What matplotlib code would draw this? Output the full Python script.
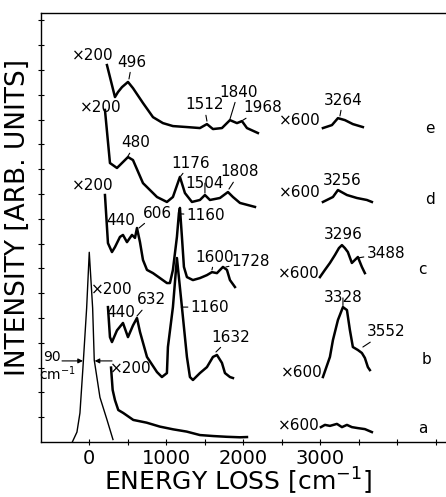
import matplotlib
matplotlib.use("Agg")
import matplotlib.pyplot as plt

# energy loss in cm^-1, intensity in arbitrary units (offset per spectrum)

# spectrum a: elastic peak (x1), x200 tail, x600 part
elastic_x = [-220, -160, -121, -82, -34, 0, 44, 65, 139, 230, 308]
elastic_y = [0.0, 0.4, 1.17, 3.0, 5.4, 7.65, 5.4, 3.3, 1.8, 0.9, 0.1]
a200_x = [283, 304, 334, 377, 442, 572, 745, 918, 1091, 1265, 1438, 1612, 1785, 1958, 2049]
a200_y = [3.0, 2.1, 1.69, 1.29, 1.17, 0.89, 0.78, 0.62, 0.51, 0.42, 0.28, 0.24, 0.21, 0.19, 0.2]
a600_x = [3010, 3062, 3127, 3218, 3283, 3348, 3412, 3490, 3581, 3672]
a600_y = [0.6, 0.69, 0.65, 0.73, 0.6, 0.69, 0.6, 0.56, 0.52, 0.4]

# spectrum b
b200_x = [243, 269, 295, 360, 438, 503, 568, 620, 659, 750, 880, 944, 1009, 1022, 1087,
          1139, 1204, 1269, 1308, 1347, 1438, 1529, 1607, 1659, 1724, 1763, 1828, 1867]
b200_y = [5.44, 4.23, 4.03, 4.5, 4.8, 4.23, 4.7, 5.0, 4.44, 3.43, 2.82, 2.62, 2.78, 3.83, 5.44,
          7.42, 5.44, 3.43, 2.62, 2.5, 2.78, 3.02, 3.43, 3.51, 3.19, 2.78, 2.62, 2.58]
b600_x = [3036, 3127, 3166, 3231, 3296, 3348, 3386, 3425, 3490, 3542, 3581, 3620, 3646]
b600_y = [2.62, 3.43, 4.11, 4.92, 5.44, 5.32, 4.52, 3.83, 3.71, 3.59, 3.39, 3.02, 2.9]

# spectrum c
c200_x = [204, 243, 295, 334, 399, 438, 490, 555, 594, 620, 659, 698, 750, 828, 919, 1009,
          1048, 1087, 1139, 1165, 1178, 1204, 1230, 1269, 1347, 1438, 1529, 1594, 1659, 1737,
          1789, 1828, 1893]
c200_y = [9.96, 8.02, 7.66, 7.86, 8.27, 8.35, 8.06, 8.35, 8.23, 8.63, 8.06, 7.34, 6.94, 6.81,
          6.61, 6.41, 6.41, 6.94, 8.27, 9.23, 9.44, 8.27, 7.06, 6.65, 6.53, 6.61, 6.73, 6.85,
          6.81, 7.06, 6.94, 6.53, 6.25]
c600_x = [2997, 3062, 3127, 3192, 3244, 3283, 3321, 3360, 3412, 3451, 3490, 3542, 3581]
c600_y = [6.65, 6.94, 7.22, 7.54, 7.82, 7.94, 7.82, 7.66, 7.22, 7.34, 7.46, 7.06, 6.81]

# spectrum d
d200_x = [204, 269, 360, 503, 568, 698, 880, 1009, 1087, 1178, 1243, 1334, 1438, 1503, 1568,
          1698, 1802, 1867, 1958, 2153]
d200_y = [13.39, 11.25, 11.05, 11.49, 11.37, 10.44, 9.88, 9.68, 9.88, 10.69, 10.04, 9.68,
          9.76, 9.96, 9.76, 9.84, 10.08, 9.88, 9.64, 9.48]
d600_x = [3036, 3166, 3231, 3348, 3477, 3607, 3672]
d600_y = [9.68, 9.88, 10.16, 9.96, 9.84, 9.76, 9.68]

# spectrum e
e200_x = [230, 334, 373, 425, 503, 568, 698, 828, 957, 1087, 1269, 1438, 1529, 1607, 1724,
          1828, 1919, 1984, 2049, 2191]
e200_y = [15.2, 13.91, 14.11, 14.31, 14.52, 14.27, 13.67, 13.1, 12.86, 12.74, 12.7, 12.66,
          12.82, 12.62, 12.66, 12.98, 12.86, 12.94, 12.66, 12.46]
e600_x = [3036, 3153, 3231, 3322, 3425, 3555]
e600_y = [12.66, 12.78, 13.06, 12.98, 12.82, 12.7]

fig = plt.figure(figsize=(4.46, 4.97), dpi=100)
ax = fig.add_axes([41 / 446, 55 / 497, 410 / 446, 429 / 497])

ax.plot(elastic_x, elastic_y, color="black", lw=1.0)
for xs, ys in [(a200_x, a200_y), (a600_x, a600_y), (b200_x, b200_y), (b600_x, b600_y),
               (c200_x, c200_y), (c600_x, c600_y), (d200_x, d200_y), (d600_x, d600_y),
               (e200_x, e200_y), (e600_x, e600_y)]:
    ax.plot(xs, ys, color="black", lw=1.8, solid_joinstyle="round")

# labels without leader: (text, x, y)
plain_labels = [
    ("×200", 48, 15.6), ("×600", 2739, 12.98), ("e", 4426, 12.66),
    ("×200", 152, 13.47), ("×600", 2739, 10.08), ("3256", 3283, 10.56), ("d", 4426, 9.76),
    ("×200", 48, 10.36), ("440", 413, 8.95), ("×600", 2726, 6.81), ("3296", 3296, 8.35),
    ("c", 4322, 6.94),
    ("×200", 295, 6.13), ("440", 413, 5.24), ("×600", 2765, 2.82), ("b", 4387, 3.31),
    ("×200", 543, 2.98), ("×600", 2726, 0.65), ("a", 4335, 0.56),
]
for txt, x, y in plain_labels:
    ax.text(x, y, txt, fontsize=11, ha="center", va="center")

# labels with leader lines: (text, peak x, peak y, text x, text y)
peak_labels = [
    ("496", 516, 14.64, 556, 15.32),
    ("1512", 1529, 12.94, 1492, 13.59),
    ("1840", 1828, 13.02, 1935, 14.11),
    ("1968", 1997, 12.98, 2256, 13.47),
    ("3264", 3257, 13.15, 3296, 13.79),
    ("480", 503, 11.53, 608, 12.06),
    ("1176", 1191, 10.73, 1322, 11.25),
    ("1504", 1503, 10.04, 1503, 10.44),
    ("1808", 1815, 10.2, 1958, 10.89),
    ("606", 646, 8.63, 880, 9.23),
    ("1160", 1178, 9.2, 1516, 9.15),
    ("1600", 1594, 6.94, 1633, 7.46),
    ("1728", 1776, 7.06, 2101, 7.26),
    ("3488", 3490, 7.42, 3854, 7.62),
    ("632", 620, 5.08, 802, 5.73),
    ("1160", 1195, 5.44, 1568, 5.44),
    ("1632", 1646, 3.63, 1843, 4.23),
    ("3328", 3296, 5.5, 3296, 5.81),
    ("3552", 3555, 3.83, 3854, 4.44),
]
for txt, px, py, tx, ty in peak_labels:
    ax.annotate(txt, xy=(px, py), xytext=(tx, ty), fontsize=11, ha="center", va="center",
                arrowprops=dict(arrowstyle="-", lw=0.8, color="black",
                                shrinkA=0, shrinkB=0))

# width marker of the elastic peak
ax.text(-484, 3.43, "90", fontsize=10, ha="center", va="center")
ax.text(-419, 2.74, "cm$^{-1}$", fontsize=10, ha="center", va="center")
ax.annotate("", xy=(-82, 3.27), xytext=(-354, 3.27),
            arrowprops=dict(arrowstyle="-|>", lw=0.8, color="black", mutation_scale=7,
                            shrinkA=0, shrinkB=0))
ax.annotate("", xy=(70, 3.27), xytext=(296, 3.27),
            arrowprops=dict(arrowstyle="-|>", lw=0.8, color="black", mutation_scale=7,
                            shrinkA=0, shrinkB=0))

ax.set_xlim(-627, 4700)
ax.set_ylim(0, 17.3)
ax.set_xticks([0, 1000, 2000, 3000])
ax.set_xticks([500, 1500, 2500, 3500, 4000, 4500], minor=True)
ax.set_yticks(range(1, 18))
ax.set_yticklabels([])
ax.tick_params(which="both", direction="inout", length=4, width=0.8)
ax.tick_params(axis="x", labelsize=14, pad=3)
ax.spines["right"].set_visible(False)
for s in ["left", "bottom", "top"]:
    ax.spines[s].set_linewidth(1.0)

fig.text(18 / 446, 1 - 218 / 497, "INTENSITY [ARB. UNITS]", rotation=90,
         fontsize=19, ha="center", va="center")
fig.text(238 / 446, 6 / 497, "ENERGY LOSS [cm$^{-1}$]", fontsize=18,
         ha="center", va="baseline")

fig.savefig("out.png", dpi=100)
